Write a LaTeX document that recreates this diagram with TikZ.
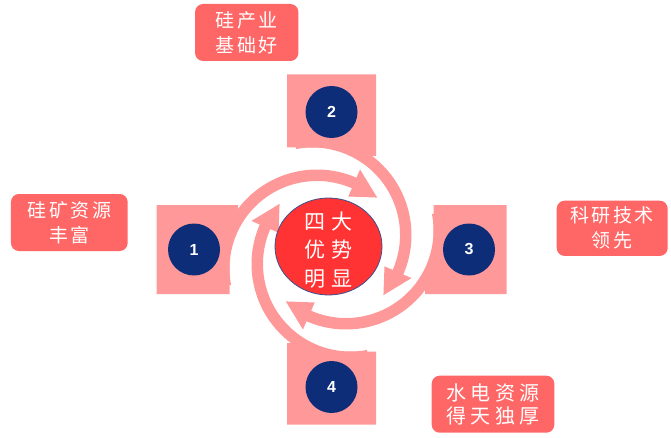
\documentclass[tikz,border=0pt]{standalone}
\usepackage{fontspec}
\setsansfont{Liberation Sans}
\newfontfamily\cjk{Noto Sans CJK SC}
\usetikzlibrary{shapes.geometric,calc}
\definecolor{tabpink}{RGB}{255,153,153}
\definecolor{boxred}{RGB}{255,102,102}
\definecolor{ctrred}{RGB}{255,51,51}
\definecolor{navy}{RGB}{13,45,120}
\definecolor{ctrline}{RGB}{60,80,140}
\newcommand\gk{\kern2.5pt}
\newcommand\gkc{\kern6pt}
\newcommand\gkd{\kern4.5pt}
\tikzset{
  numc/.style={circle, fill=navy, minimum size=52pt, inner sep=0pt, text=white,
    font=\sffamily\bfseries\fontsize{16}{16}\selectfont},
  lbl/.style={rectangle, rounded corners=8pt, fill=boxred, text=white, align=center,
    inner sep=0pt, font=\cjk\fontsize{19}{25}\selectfont},
  ctrshape/.style={ellipse, fill=ctrred, draw=ctrline, line width=0.8pt,
    minimum width=107pt, minimum height=97pt, inner sep=0pt},
  ctrtext/.style={text=white, align=center, inner sep=0pt,
    font=\cjk\fontsize{21}{28.5}\selectfont},
}
\begin{document}
\begin{tikzpicture}[x=1pt,y=1pt]
\fill[white] (0,0) rectangle (671,437);
\useasboundingbox (0,0) rectangle (671,437);
\coordinate (C) at (331.5,187.5);
% tabs and curved arrows (4-fold rotation about C)
\foreach \k in {0,1,2,3} {
  \begin{scope}[shift={(C)}, rotate=-90*\k]
    \fill[tabpink] (-175,-44.5) -- (-102,-44.5) -- (-102,19) -- (-93.5,19)
      -- (-93.5,44.5) -- (-175,44.5) -- cycle;
    \begin{scope}[shift={(-14.5,-19)}]
      \fill[tabpink] (190.8:99) arc[start angle=190.8, end angle=66.5, radius=99]
        -- (66.5:108) -- (49.7:93) -- (66.5:78.5) -- (66.5:87.5)
        arc[start angle=66.5, end angle=190.8, radius=87.5] -- cycle;
    \end{scope}
  \end{scope}
}
% number circles
\node[numc] (n1) at (194,187.5) {1};
\node[numc] (n2) at (331.5,325) {2};
\node[numc] (n3) at (469,187.5) {3};
\node[numc] (n4) at (331.5,50) {4};
% centre
\node[ctrshape] (ctr) at (328.5,190.5) {};
\node[ctrtext] (ctrt) at ([yshift=-3.5pt]ctr.center) {四\gkc 大\\优\gkc 势\\明\gkc 显};
% labels
\node[lbl, minimum width=116.7pt, minimum height=57pt] (b1) at (69.3,214.5)
  {硅\gk 矿\gk 资\gk 源\\丰\gk 富};
\node[lbl, minimum width=103.3pt, minimum height=57pt] (b2) at (246.7,404.5)
  {硅\gk 产\gk 业\\基\gk 础\gk 好};
\node[lbl, minimum width=111pt, minimum height=55.3pt] (b3) at (612.2,208.7)
  {科\gk 研\gk 技\gk 术\\领\gk 先};
\node[lbl, minimum width=122.6pt, minimum height=57pt,
  font=\cjk\fontsize{20}{23.5}\selectfont] (b4) at (493,32.8)
  {水\gkd 电\gkd 资\gkd 源\\得\gkd 天\gkd 独\gkd 厚};
\end{tikzpicture}
\end{document}
